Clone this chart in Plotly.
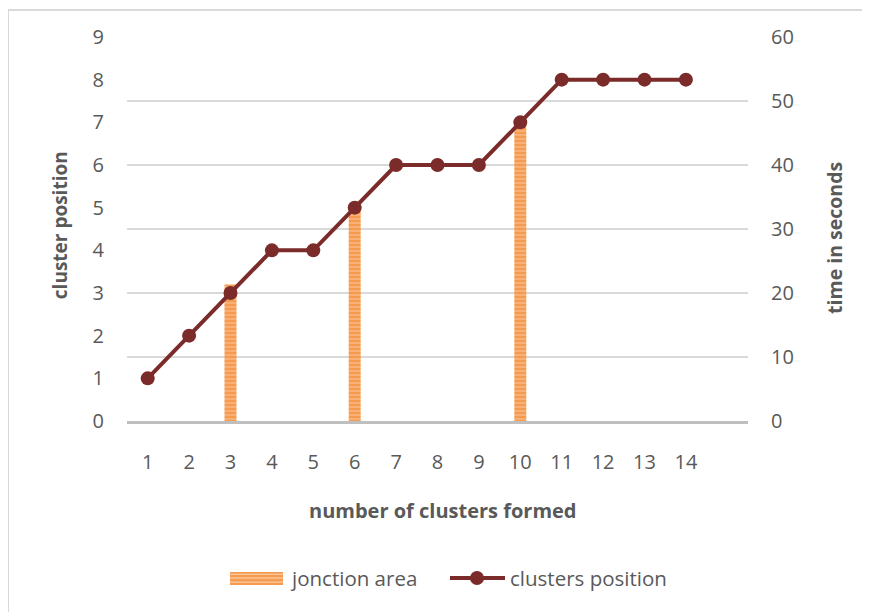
import plotly.graph_objects as go

clusters = list(range(1, 15))
cluster_position = [1, 2, 3, 4, 4, 5, 6, 6, 6, 7, 8, 8, 8, 8]
junction_x = [3, 6, 10]
junction_area = [3.2, 5.0, 7.0]
left_ticks = list(range(0, 10))
right_ticks = list(range(0, 70, 10))

FONT = "Open Sans"
GREY = "#595959"
LINE_COLOR = "#7B2C2A"
BAR_COLOR = "#F59A4E"
BAR_STRIPE = "#FCD9BC"

fig = go.Figure()

# dummy trace to render the right (time) axis that carries the gridlines
fig.add_trace(go.Scatter(x=[None], y=[None], yaxis="y", showlegend=False,
                         hoverinfo="skip"))

fig.add_trace(go.Bar(
    x=junction_x, y=junction_area, yaxis="y2", name="jonction area",
    width=0.29, showlegend=False,
    marker=dict(color=BAR_COLOR, line=dict(width=0),
                pattern=dict(shape="-", fgcolor=BAR_STRIPE, size=4, solidity=0.35)),
))
fig.add_trace(go.Scatter(
    x=clusters, y=cluster_position, yaxis="y2", name="clusters position",
    mode="lines+markers", showlegend=False,
    line=dict(color=LINE_COLOR, width=4),
    marker=dict(color=LINE_COLOR, size=14),
))

TICKFONT = dict(family=FONT, size=20, color=GREY)

fig.update_layout(
    width=870, height=612,
    margin=dict(l=119, r=130, t=29, b=199),
    paper_bgcolor="white", plot_bgcolor="white",
    font=dict(family=FONT, color=GREY, size=17),
    showlegend=False,
    xaxis=dict(range=[0.5, 15.5], tickvals=clusters, ticktext=[str(c) for c in clusters],
               showgrid=False, zeroline=False, showline=True, linecolor="#BFBFBF",
               linewidth=3, ticks="", ticklabelstandoff=21,
               tickfont=TICKFONT, automargin=False),
    yaxis=dict(range=[0, 60], tickvals=right_ticks, side="right", showgrid=True,
               gridcolor="#D9D9D9", gridwidth=1.5, zeroline=False, showline=False,
               ticks="", ticklabelstandoff=22, tickfont=TICKFONT,
               automargin=False),
    yaxis2=dict(range=[0, 9], tickvals=left_ticks, side="left", overlaying="y",
                showgrid=False, zeroline=False, showline=False, ticks="",
                ticklabelstandoff=22, tickfont=TICKFONT,
                automargin=False),
    bargap=0.7,
)

fig.add_annotation(text="<b>number of clusters formed</b>", xref="paper", yref="paper",
                   x=0.509, y=-0.2318, xanchor="center", yanchor="middle",
                   showarrow=False, font=dict(family=FONT, size=20, color=GREY))
fig.add_annotation(text="<b>cluster position</b>", xref="paper", yref="paper",
                   x=-0.1079, y=0.51, xanchor="center", yanchor="middle", textangle=-90,
                   showarrow=False, font=dict(family=FONT, size=19, color=GREY))
fig.add_annotation(text="<b>time in seconds</b>", xref="paper", yref="paper",
                   x=1.140, y=0.4766, xanchor="center", yanchor="middle", textangle=-90,
                   showarrow=False, font=dict(family=FONT, size=19.5, color=GREY))

# manual legend
LEG_Y = -0.4089
LEGFONT = dict(family=FONT, size=20.5, color=GREY)
fig.add_shape(type="rect", xref="paper", yref="paper",
              x0=0.1659, x1=0.2512, y0=-0.4271, y1=-0.3932,
              line=dict(width=0), fillcolor=BAR_COLOR)
for dy in (-0.4196, -0.4089, -0.3990):
    fig.add_shape(type="line", xref="paper", yref="paper",
                  x0=0.1659, x1=0.2512, y0=dy, y1=dy,
                  line=dict(color=BAR_STRIPE, width=1))
fig.add_annotation(text="jonction area", xref="paper", yref="paper",
                   x=0.2593, y=LEG_Y, xanchor="left", yanchor="middle",
                   showarrow=False, font=LEGFONT)
fig.add_shape(type="line", xref="paper", yref="paper",
              x0=0.5201, x1=0.6087, y0=LEG_Y, y1=LEG_Y,
              line=dict(color=LINE_COLOR, width=4))
fig.add_shape(type="circle", xref="paper", yref="paper",
              x0=0.5636 - 0.01127, x1=0.5636 + 0.01127,
              y0=LEG_Y - 0.01823, y1=LEG_Y + 0.01823,
              line=dict(width=0), fillcolor=LINE_COLOR)
fig.add_annotation(text="clusters position", xref="paper", yref="paper",
                   x=0.6135, y=LEG_Y, xanchor="left", yanchor="middle",
                   showarrow=False, font=LEGFONT)

# outer chart border (top and left edges visible)
fig.add_shape(type="line", xref="paper", yref="paper",
              x0=-0.1916, x1=1.3, y0=1.0703, y1=1.0703,
              line=dict(color="#D9D9D9", width=2), layer="below")
fig.add_shape(type="line", xref="paper", yref="paper",
              x0=-0.1916, x1=-0.1916, y0=-0.6, y1=1.0703,
              line=dict(color="#D9D9D9", width=2), layer="below")

fig.write_html("out.html")
